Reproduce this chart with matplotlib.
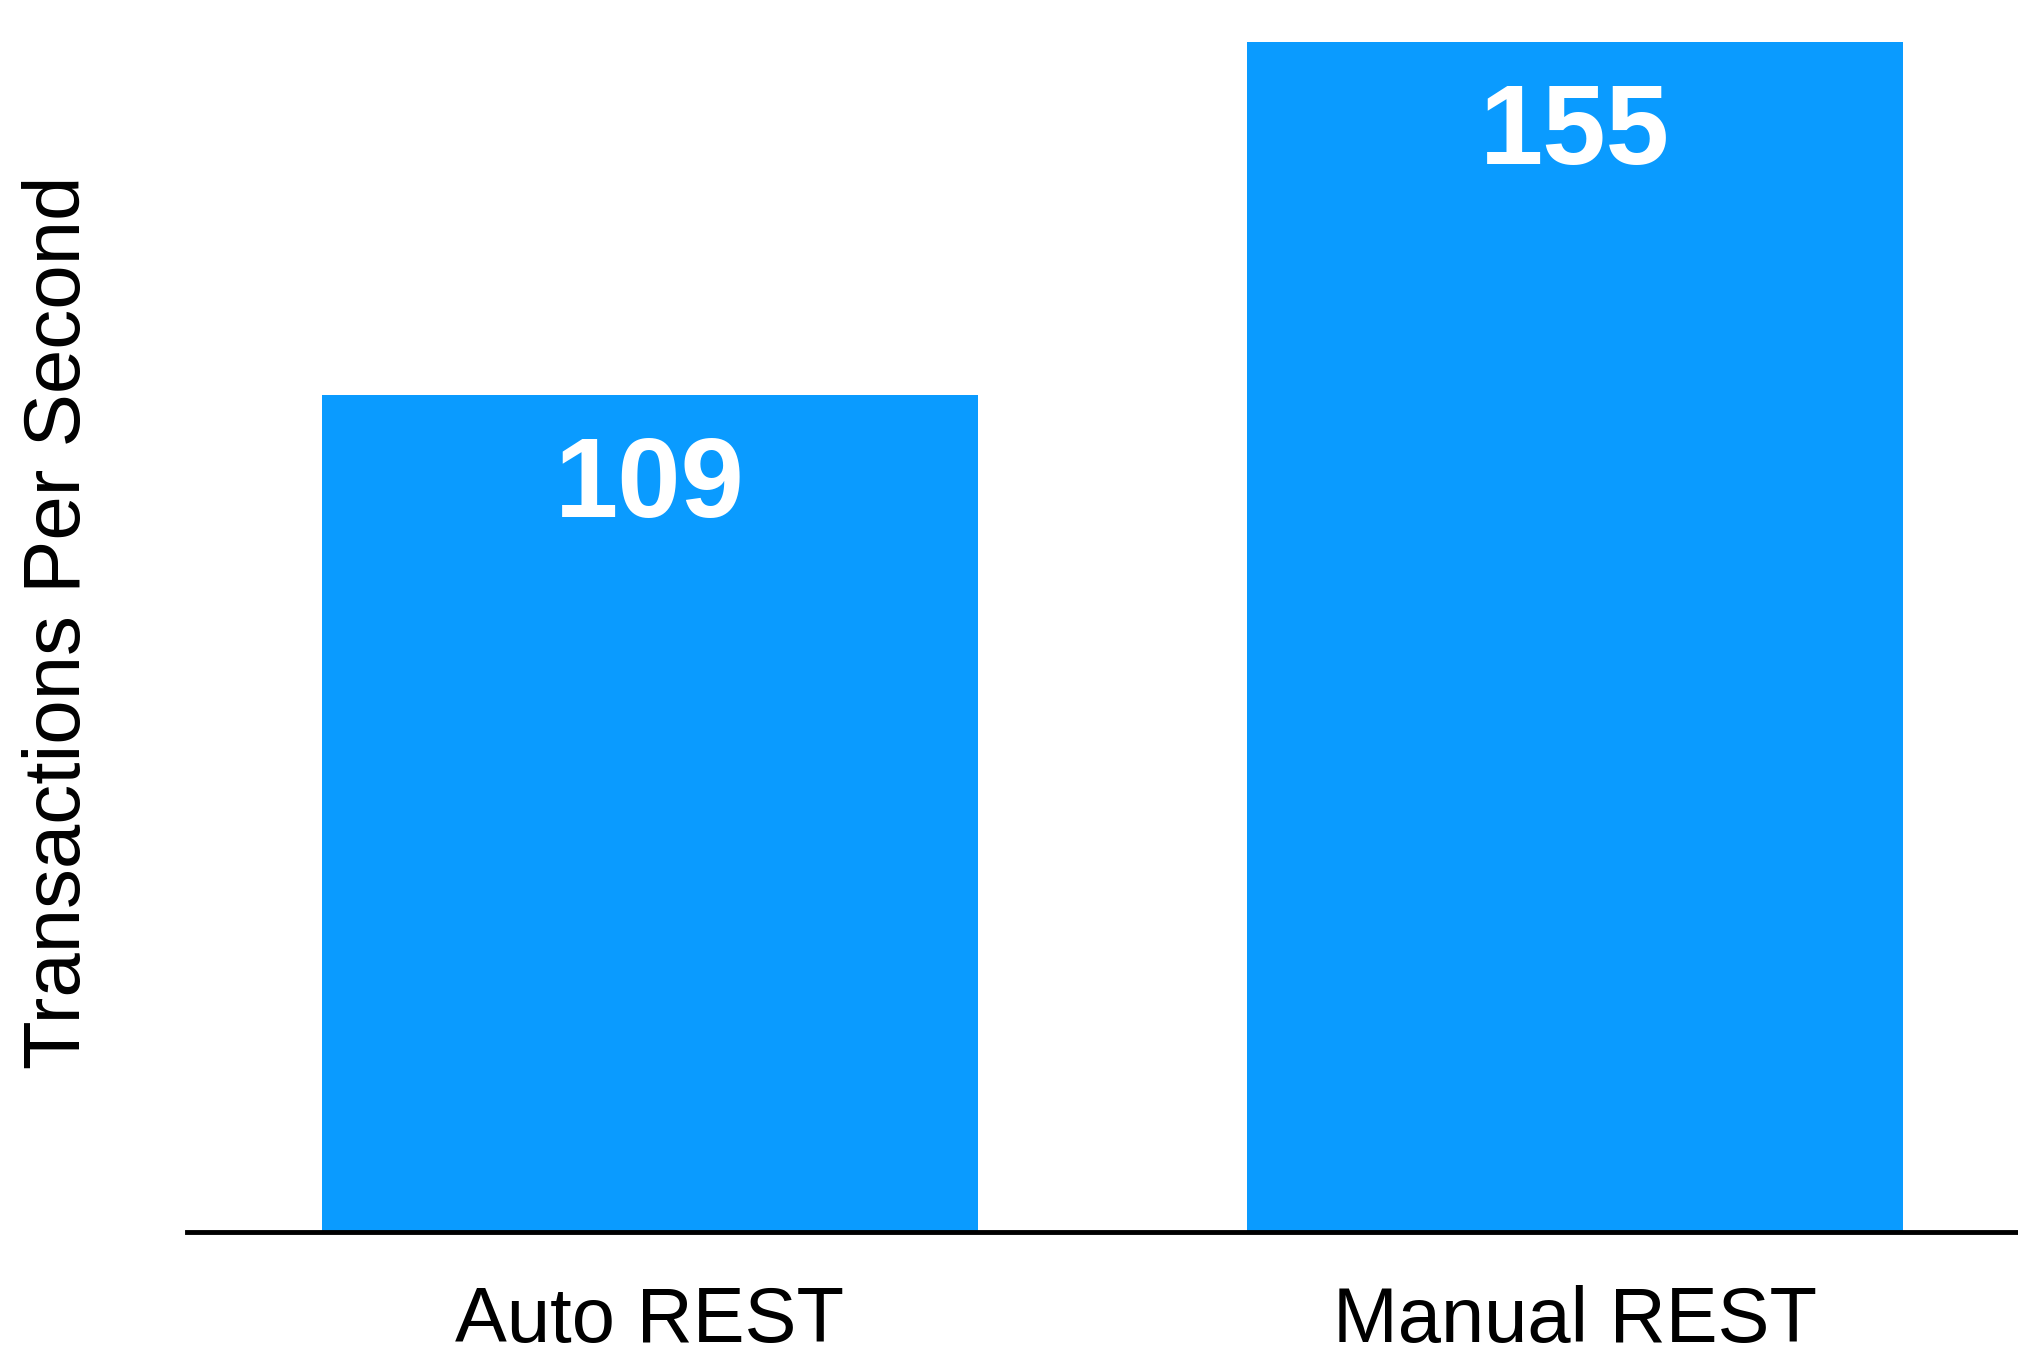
import matplotlib
matplotlib.use("Agg")
import matplotlib.pyplot as plt

categories = ["Auto REST", "Manual REST"]
values = [109, 155]
value_labels = ["109", "155"]

W, H, DPI = 2018, 1357, 100
fig = plt.figure(figsize=(W / DPI, H / DPI), dpi=DPI)
fig.patch.set_facecolor("white")

ax_left, ax_right = 187, 2018
ax_top, ax_bottom = 0, 1232
ax = fig.add_axes([ax_left / W, 1 - ax_bottom / H, (ax_right - ax_left) / W, (ax_bottom - ax_top) / H])

font = "Liberation Sans"
color = "#0A9BFF"
x = list(range(len(categories)))
bars = ax.bar(x, values, width=0.709, color=color, zorder=2)

ax.set_xlim(-0.5005, 1.479)
ax.set_ylim(0, 160.5)

for b, lab in zip(bars, value_labels):
    ax.annotate(lab, (b.get_x() + b.get_width() / 2, b.get_height()),
                xytext=(0, -93 * 72 / DPI), textcoords="offset points",
                ha="center", va="center", color="white", fontsize=82,
                fontweight="bold", family=font)

for s in ["top", "right", "left"]:
    ax.spines[s].set_visible(False)
ax.spines["bottom"].set_linewidth(3.5)
ax.spines["bottom"].set_color("black")
ax.spines["bottom"].set_zorder(3)

ax.set_yticks([])
ax.set_xticks(x)
ax.set_xticklabels(categories, fontsize=56, family=font)
ax.tick_params(axis="x", length=0, pad=38)

ax.set_ylabel("Transactions Per Second", fontsize=57.5, family=font)
ax.yaxis.set_label_coords((60 - ax_left) / (ax_right - ax_left), 1 - (622 - ax_top) / (ax_bottom - ax_top))
ax.yaxis.label.set_va("center")

fig.savefig("out.png", dpi=DPI, facecolor="white")
